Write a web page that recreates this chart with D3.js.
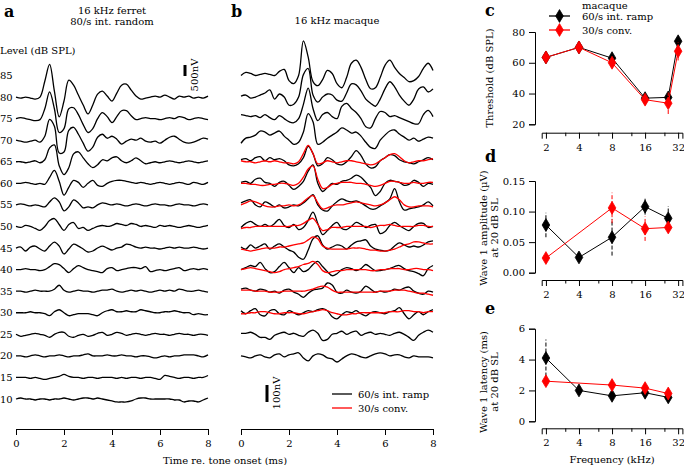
<!DOCTYPE html>
<html><head><meta charset="utf-8">
<script src="https://cdn.jsdelivr.net/npm/d3@7"></script>
<style>
body{margin:0;background:#fff}
text{font-family:"DejaVu Serif",serif;font-size:10px;fill:#000}
</style>
</head><body>
<svg id="chart" width="684" height="465"></svg>
<script>
// ---------- DATA ----------
const times = [0,0.2,0.4,0.6,0.8,1.0,1.2,1.4,1.6,1.8,2.0,2.2,2.4,2.6,2.8,3.0,3.2,3.4,3.6,3.8,4.0,4.2,4.4,4.6,4.8,5.0,5.2,5.4,5.6,5.8,6.0,6.2,6.4,6.6,6.8,7.0,7.2,7.4,7.6,7.8,8.0];
const timeTicks = [0,2,4,6,8];
const levelLabels = [85,80,75,70,65,60,55,50,45,40,35,30,25,20,15,10];

// Panel a: ferret, values in nV
const levelsA = [80,75,70,65,60,55,50,45,40,35,30,25,20,15,10];
const tracesA = [
[0,-45,0,-45,-90,0,720,1485,270,-900,-180,765,540,90,-360,-765,-360,135,270,45,-180,180,540,585,315,45,-90,-45,0,45,0,90,0,-90,45,0,45,-45,0,-45,45],
[0,45,0,-45,-90,-45,450,1215,450,-630,-450,450,495,180,-270,-630,-450,0,270,90,-180,90,360,360,135,-45,0,45,0,0,-45,0,45,0,90,45,-45,0,45,0,-45],
[0,-45,-90,-45,0,-90,180,945,630,-585,-540,450,585,270,-135,-495,-315,135,270,90,180,45,-180,-45,45,0,90,-45,-90,-45,-135,0,135,180,45,-90,-135,-90,0,90,45],
[0,0,-45,0,45,-45,90,630,765,-180,-585,-270,360,450,180,-90,-270,-135,90,45,180,225,45,-45,45,180,45,-90,-45,0,-45,0,45,0,-45,0,45,0,-45,0,45],
[0,0,45,0,-45,0,-45,270,585,90,-540,-180,135,45,-180,0,135,-90,-135,0,90,135,135,90,45,0,45,0,-45,0,45,0,-45,0,45,0,-45,45,0,-45,45],
[0,45,0,-45,0,-45,-90,135,315,135,-270,-90,225,90,-135,-90,-135,0,90,45,0,45,0,-45,0,45,0,-45,0,45,0,0,-45,0,45,0,0,-45,0,45,0],
[0,-45,45,0,-90,-180,0,270,360,90,-180,90,180,-90,-45,-180,-90,0,45,0,45,135,90,45,135,90,0,45,0,-45,45,0,45,0,-45,0,45,0,-45,0,45],
[0,45,-135,45,90,-45,-135,90,270,90,-270,-45,180,90,-45,-180,-135,0,90,0,-90,0,45,180,135,45,0,45,0,0,-45,0,45,0,45,0,0,45,0,-45,0],
[0,0,45,0,0,-45,0,135,270,225,45,-135,45,180,90,0,-45,-90,-135,45,90,-45,0,45,90,90,45,135,-90,-45,0,-45,0,45,90,-45,0,45,0,45,0],
[0,0,-45,0,45,0,0,0,90,270,45,-45,0,45,0,0,-45,0,45,45,90,0,-45,0,45,0,45,0,-45,0,45,0,45,0,90,45,0,0,45,0,-45],
[0,0,0,45,0,0,-45,-135,45,135,0,-135,-90,-45,-45,-45,-90,-135,0,90,135,45,45,90,45,45,135,90,45,0,0,45,45,90,45,0,0,-90,-45,-90,-90],
[0,-90,-45,0,45,0,-45,-135,0,90,90,-90,-135,-45,0,-90,-45,45,90,-45,0,90,45,-45,0,45,0,-45,0,45,0,0,-45,0,45,0,0,-45,0,0,-45],
[0,0,-45,0,45,0,-45,0,0,45,0,-45,0,0,45,90,0,0,0,45,0,0,45,0,0,-45,0,0,-45,-90,-45,0,-45,0,0,45,45,45,0,-45,45],
[0,0,0,-45,0,-45,-90,-45,0,45,135,45,0,0,-45,0,0,-45,0,0,0,-45,0,-45,0,0,-45,0,0,-45,-90,90,45,0,-45,0,0,-45,0,0,90],
[0,45,0,0,-45,0,0,-45,0,0,45,0,-45,0,45,45,0,45,0,-45,-90,-135,-135,-135,-90,0,45,45,0,0,0,0,0,-45,-45,-135,-90,-90,-135,-45,45]
];

// Panel b: macaque, values in nV
const levelsBBlack = [85,80,75,70,65,60,55,50,45,40,35,30,25,20];
const tracesBBlack = [
[0,18,12,0,6,12,6,0,24,36,-30,-48,0,204,108,-36,-60,-24,30,12,-48,-72,-12,72,90,48,-24,-78,-72,-12,60,90,48,12,-12,-36,-30,-6,42,72,30],
[6,12,-6,0,12,24,42,-12,18,0,-48,-42,0,132,168,12,-30,0,18,12,-18,-24,24,78,72,36,-12,-36,-54,-12,48,90,60,12,-24,-48,-12,48,60,30,48],
[24,18,12,18,6,24,6,-6,18,0,-18,-24,0,84,180,60,-12,24,36,12,0,72,90,60,36,0,-48,-54,0,42,36,12,18,6,-6,-18,-30,-30,24,48,12],
[-18,12,18,30,54,48,30,42,54,24,0,-24,-12,48,156,108,-24,-12,12,30,48,72,60,42,48,24,-12,-42,-48,0,30,54,60,36,18,0,12,-6,6,18,12],
[12,18,6,24,30,6,24,12,18,6,-18,-24,-12,24,90,48,-24,-12,24,12,-12,-18,0,30,66,36,-12,-36,-30,6,24,42,36,12,0,-6,-12,0,12,24,12],
[6,12,0,24,30,6,0,-18,6,12,-12,-36,-18,12,72,108,0,-48,-24,0,-6,12,18,30,48,36,6,-24,-72,-48,0,18,12,6,-12,-6,18,6,-18,0,-6],
[12,24,30,0,-12,18,6,-12,0,-18,-12,0,-6,12,36,60,0,-30,-36,-6,18,36,24,18,24,12,-6,-24,-24,-6,12,36,96,18,-30,-24,-18,-12,0,18,-6],
[-6,18,30,12,0,12,0,18,42,6,-6,12,-18,-6,36,84,18,-48,-24,6,24,-12,-18,0,24,12,-6,6,12,-42,-30,6,24,6,-12,-24,0,18,18,-6,0],
[6,-6,18,0,12,24,-6,12,24,6,-12,-24,-54,-66,-12,54,72,18,-6,6,18,12,-6,18,36,42,48,12,-6,-12,-18,-12,12,30,18,6,12,6,18,36,42],
[0,12,24,18,42,6,-18,-12,18,42,12,-18,12,-12,0,30,48,18,-12,-36,-24,0,12,6,-6,6,30,12,-6,-6,0,6,18,24,6,-6,-12,-24,-36,6,24],
[12,18,6,0,12,6,-6,0,-12,6,12,-6,-18,-36,-12,6,12,18,48,36,-6,-12,6,-6,-12,0,30,12,-6,0,-6,0,12,6,18,24,0,-12,-18,0,-6],
[12,-6,12,24,-12,-18,12,18,-6,-12,12,0,-12,0,12,6,18,24,12,-24,-36,-12,6,0,12,-6,-18,0,6,0,-6,6,12,30,-6,-36,-12,6,-12,6,18],
[6,6,12,0,-18,-18,-30,-6,6,12,0,6,-6,-12,12,24,6,-36,-30,0,6,18,0,12,18,-6,6,12,0,6,0,-6,6,12,0,-18,-36,-6,12,24,12],
[0,-6,-12,0,6,-6,-12,6,12,-6,6,12,18,-12,-30,0,12,6,-12,-18,-36,-18,0,12,6,-6,-12,0,12,18,12,0,6,6,-6,-12,0,-6,-6,-6,-12]
];
const levelsBRed = [65,60,55,50,45,40,35,30];
const tracesBRed = [
[6,0,0,-6,0,6,0,6,0,-6,-6,-12,0,48,96,48,-12,-6,6,0,-6,0,6,6,0,-6,-12,-18,-12,6,24,42,48,30,6,-6,0,6,6,12,18],
[0,0,-6,-6,-12,-12,-6,-6,0,0,-6,-12,0,36,84,102,24,-30,-24,-6,0,6,6,6,0,0,-6,-12,-18,-12,0,12,12,6,0,0,6,0,0,6,6],
[0,12,24,18,6,-6,-12,-12,-6,-6,0,-6,0,18,42,54,12,-24,-18,-6,0,0,6,12,18,12,6,0,-6,0,12,30,48,30,0,-12,-12,-6,-6,-6,-12],
[-12,-6,-6,0,0,0,0,0,0,0,0,6,6,18,36,48,12,-24,-18,-6,-6,-6,0,0,0,0,0,-6,0,6,6,12,6,0,0,0,0,6,6,0,0],
[-6,-12,-18,-12,-6,0,0,0,6,6,12,18,24,30,48,66,54,12,0,-6,-6,-6,-6,0,0,0,-6,-12,-12,-18,-18,-12,-6,6,18,24,36,36,30,24,24],
[0,6,12,6,0,-6,-12,-18,-12,0,6,12,18,30,36,48,30,-6,-18,-12,-6,-6,0,0,0,0,0,-6,-6,0,0,6,6,6,0,0,6,6,0,0,-6],
[6,6,6,0,0,0,-6,-6,-6,0,0,0,0,0,6,12,24,30,24,6,-6,-6,-6,-6,-6,-6,-6,-6,-6,0,0,0,6,6,6,0,-6,-12,-12,-18,-24],
[-6,-6,0,0,6,6,0,-6,-6,0,0,0,-6,-6,0,6,12,18,12,0,-6,-12,-12,-6,-6,0,0,0,0,0,0,6,6,6,12,12,6,6,0,6,6]
];

// Panels c-e (frequency in kHz)
const freqTicks = [2,4,8,16,32];
const freqMinor = [3,6,12,24];
const freqC = [2,4,8,16,26,32];
const thrRamp = [63.5,70,63,37,37.5,74];
const thrRampErr = [1,1,1.5,1,2,1.5];
const thrConv = [63.5,70,60,36,33.7,67.5];
const thrConvErr = [1,1,1.5,1.5,7,6];
const freqRamp = [2,4,8,16,26];
const ampRamp = [0.078,0.025,0.058,0.108,0.089];
const ampRampErr = [0.02,0.003,0.03,0.013,0.02];
const freqConv = [2,8,16,26];
const ampConv = [0.024,0.106,0.072,0.074];
const ampConvErr = [0.005,0.025,0.02,0.005];
const latRamp = [4.1,2.0,1.65,1.85,1.55];
const latRampErr = [1.2,0.3,0.2,0.15,0.15];
const latConv = [2.6,2.35,2.15,1.8];
const latConvErr = [0.25,0.2,0.2,0.2];
const seriesNames = ["60/s int. ramp","30/s conv."];
const seriesColors = ["#000000","#ff0000"];

// ---------- DRAWING ----------
const svg = d3.select("#chart");
const levelY = d3.scaleLinear().domain([85,10]).range([75.5,399]);
const xA = d3.scaleLinear().domain([0,8]).range([16,208]);
const xB = d3.scaleLinear().domain([0,8]).range([241,433]);
const ampA = d3.scaleLinear().domain([0,500]).range([0,11]);   // 500 nV bar
const ampB = d3.scaleLinear().domain([0,100]).range([0,17]);   // 100 nV bar

function drawTrace(g, x, amp, level, vals, color){
  const line = d3.line()
    .x((d,i)=>x(times[i]))
    .y((d)=>levelY(level)-amp(d))
    .curve(d3.curveCatmullRom.alpha(0.5));
  g.append("path").attr("d", line(vals)).attr("fill","none")
    .attr("stroke", color).attr("stroke-width",1.3).attr("stroke-linejoin","round");
}

// panel letters
[["a",4,17],["b",231,17],["c",485,16],["d",485,162],["e",485,314]].forEach(([t,x,y])=>{
  svg.append("text").attr("x",x).attr("y",y).text(t)
    .style("font-size","16px").style("font-weight","bold");
});

// ---- Panel a ----
const gA = svg.append("g");
gA.append("text").attr("x",112).attr("y",13.5).attr("text-anchor","middle").text("16 kHz ferret");
gA.append("text").attr("x",112).attr("y",24.5).attr("text-anchor","middle").text("80/s int. random");
gA.append("text").attr("x",0).attr("y",53.5).text("Level (dB SPL)");
levelLabels.forEach(l=>{
  gA.append("text").attr("x",0).attr("y",levelY(l)).attr("dy","0.35em").text(l);
});
levelsA.forEach((l,i)=>drawTrace(gA, xA, ampA, l, tracesA[i], "#000"));
// scale bar 500 nV
gA.append("line").attr("x1",185).attr("x2",185).attr("y1",65).attr("y2",65+ampA(500))
  .attr("stroke","#000").attr("stroke-width",3);
gA.append("text").attr("transform","translate(198,75) rotate(-90)").attr("text-anchor","middle").text("500nV");
gA.append("g").attr("transform","translate(0,429)")
  .call(d3.axisBottom(xA).tickValues(timeTicks).tickSizeOuter(0).tickSize(6).tickPadding(5));

// ---- Panel b ----
const gB = svg.append("g");
gB.append("text").attr("x",337).attr("y",23.5).attr("text-anchor","middle").text("16 kHz macaque");
levelsBBlack.forEach((l,i)=>drawTrace(gB, xB, ampB, l, tracesBBlack[i], "#000"));
levelsBRed.forEach((l,i)=>drawTrace(gB, xB, ampB, l, tracesBRed[i], "#ff0000"));
gB.append("line").attr("x1",267).attr("x2",267).attr("y1",385).attr("y2",385+ampB(100))
  .attr("stroke","#000").attr("stroke-width",3);
gB.append("text").attr("transform","translate(280,393) rotate(-90)").attr("text-anchor","middle").text("100nV");
seriesNames.forEach((n,i)=>{
  const y = 394 + i*14;
  gB.append("line").attr("x1",332).attr("x2",352).attr("y1",y).attr("y2",y)
    .attr("stroke",seriesColors[i]).attr("stroke-width",1.3);
  gB.append("text").attr("x",358).attr("y",y).attr("dy","0.35em").text(n);
});
gB.append("g").attr("transform","translate(0,429)")
  .call(d3.axisBottom(xB).tickValues(timeTicks).tickSizeOuter(0).tickSize(6).tickPadding(5));
svg.append("text").attr("x",225).attr("y",463.5).attr("text-anchor","middle").text("Time re. tone onset (ms)");

// ---- Panels c, d, e ----
const xF = d3.scaleLog().base(2).domain([1.83,35]).range([541.7,682.4]);
function diamond(g, cx, cy, color){
  const w=3.8,h=6.4;
  g.append("path").attr("d",`M${cx},${cy-h}L${cx+w},${cy}L${cx},${cy+h}L${cx-w},${cy}Z`)
    .attr("fill",color).attr("stroke",color).attr("stroke-width",0.8);
}
function drawPanel(yDomain, yRange, yTicks, yFmt, xAxisY, series, labelLines, labelCY){
  const g = svg.append("g");
  const y = d3.scaleLinear().domain(yDomain).range(yRange);
  g.append("g").attr("transform","translate(535,0)")
    .call(d3.axisLeft(y).tickValues(yTicks).tickFormat(yFmt).tickSizeOuter(0).tickSize(6).tickPadding(4));
  g.append("g").attr("transform",`translate(0,${xAxisY})`)
    .call(d3.axisBottom(xF).tickValues(freqTicks).tickFormat(d3.format("d")).tickSizeOuter(0).tickSize(6).tickPadding(5));
  g.append("g").attr("transform",`translate(0,${xAxisY})`)
    .call(d3.axisBottom(xF).tickValues(freqMinor).tickFormat("").tickSizeOuter(0).tickSize(3.5))
    .select(".domain").remove();
  series.forEach(s=>{
    const pts = s.f.map((f,i)=>[xF(f), y(s.v[i]), y(s.v[i]-s.e[i]), y(s.v[i]+s.e[i])]);
    pts.forEach(p=>{
      g.append("line").attr("x1",p[0]).attr("x2",p[0]).attr("y1",p[2]).attr("y2",p[3])
        .attr("stroke",s.c).attr("stroke-width",1).attr("stroke-dasharray","4,2");
    });
    g.append("path").attr("d", d3.line()(pts.map(p=>[p[0],p[1]])))
      .attr("fill","none").attr("stroke",s.c).attr("stroke-width",1);
    pts.forEach(p=>diamond(g,p[0],p[1],s.c));
  });
  labelLines.forEach((t,i)=>{
    const x = 489 + (i - (labelLines.length-1)/2)*11.5;
    g.append("text").attr("transform",`translate(${x},${labelCY}) rotate(-90)`)
      .attr("text-anchor","middle").attr("dy","0.35em").text(t);
  });
}
drawPanel([20,80],[124.3,32],[20,40,60,80],d3.format("d"),132.7,
  [{f:freqC,v:thrRamp,e:thrRampErr,c:seriesColors[0]},{f:freqC,v:thrConv,e:thrConvErr,c:seriesColors[1]}],
  ["Threshold (dB SPL)"],78);
drawPanel([0,0.15],[272.7,181],[0,0.05,0.10,0.15],d3.format(".2f"),280,
  [{f:freqRamp,v:ampRamp,e:ampRampErr,c:seriesColors[0]},{f:freqConv,v:ampConv,e:ampConvErr,c:seriesColors[1]}],
  ["Wave 1 amplitude (\u00b5V)","at 20 dB SL"],228);
drawPanel([0,6],[421.3,328.7],[0,2,4,6],d3.format("d"),428.3,
  [{f:freqRamp,v:latRamp,e:latRampErr,c:seriesColors[0]},{f:freqConv,v:latConv,e:latConvErr,c:seriesColors[1]}],
  ["Wave 1 latency (ms)","at 20 dB SL"],382);
svg.append("text").attr("x",612).attr("y",462.5).attr("text-anchor","middle").text("Frequency (kHz)");

// legend c
const gL = svg.append("g");
gL.append("text").attr("x",582).attr("y",8.5).text("macaque");
seriesNames.forEach((n,i)=>{
  const y = 16 + i*14;
  gL.append("line").attr("x1",549).attr("x2",570).attr("y1",y).attr("y2",y)
    .attr("stroke",seriesColors[i]).attr("stroke-width",1.3);
  diamond(gL,559.5,y,seriesColors[i]);
  gL.append("text").attr("x",582).attr("y",y).attr("dy","0.35em").text(n);
});

svg.selectAll(".tick text").style("font-size","10px");
svg.selectAll("text").style("font-family","'DejaVu Serif', serif");
</script>
</body></html>
